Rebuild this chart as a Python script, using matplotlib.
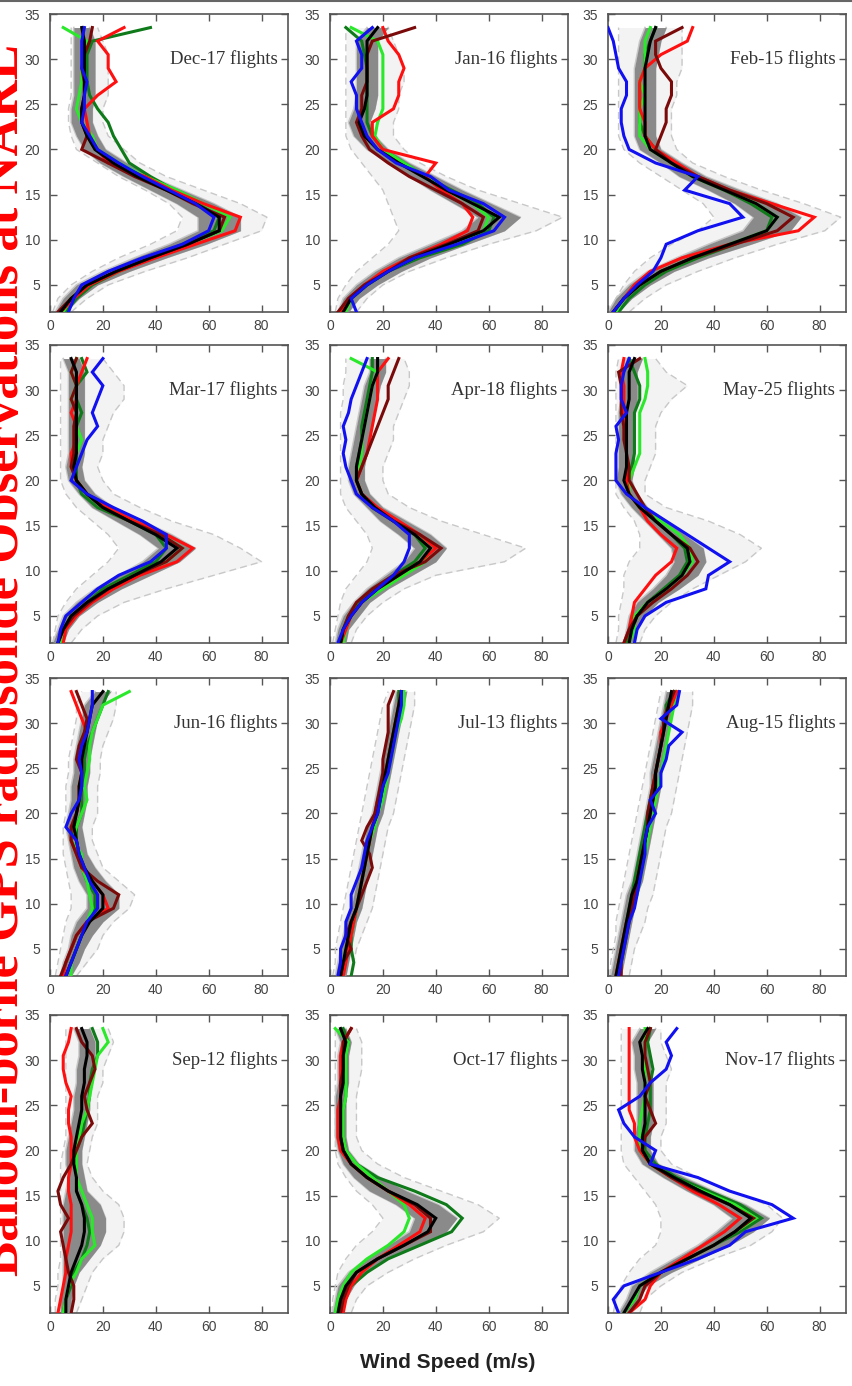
import matplotlib
matplotlib.use("Agg")
import matplotlib.pyplot as plt
from matplotlib.lines import Line2D

# ---------------- data (wind speed, m/s) ----------------
alt_km = [2, 3.5, 5, 6.5, 8, 9.5, 11, 12.5, 14, 15.5, 17, 18.5,
          20, 21.5, 23, 24.5, 26, 27.5, 29, 30.5, 32, 33.5]

month_titles = ["Dec-17 flights", "Jan-16 flights", "Feb-15 flights",
                "Mar-17 flights", "Apr-18 flights", "May-25 flights",
                "Jun-16 flights", "Jul-13 flights", "Aug-15 flights",
                "Sep-12 flights", "Oct-17 flights", "Nov-17 flights"]

x_ticks = [0, 20, 40, 60, 80]
y_ticks = [5, 10, 15, 20, 25, 30, 35]

# December
dec_mean = [4, 8, 14, 25, 38, 52, 64, 64, 55, 44, 33, 24, 17, 14, 12, 12, 13, 13, 13, 13, 13, 12]
dec_sd = [2, 3, 4, 5, 6, 7, 8, 8, 7, 6, 5, 5, 4, 4, 4, 4, 4, 4, 4, 4, 4, 3]
dec_lo = [1, 3, 8, 16, 26, 38, 48, 50, 45, 36, 26, 18, 10, 8, 7, 7, 8, 8, 8, 8, 8, 8]
dec_hi = [8, 14, 22, 36, 52, 66, 80, 82, 72, 58, 44, 34, 28, 22, 20, 20, 22, 22, 22, 22, 20, 18]
dec_dred = [3, 8, 14, 25, 38, 52, 64, 66, 54, 44, 32, 22, 12, 14, 12, 12, 13, 13, 12, 13, 15, 16]
dec_red = [4, 9, 15, 26, 40, 55, 70, 72, 58, 46, 36, 22, 18, 15, 14, 13, 18, 25, 22, 22, 18, 28]
dec_lime = [5, 8, 14, 26, 38, 52, 65, 68, 58, 48, 36, 26, 18, 16, 12, 10, 11, 12, 12, 13, 14, 5]
dec_dgreen = [6, 10, 16, 26, 38, 50, 62, 64, 56, 47, 38, 30, 27, 24, 22, 18, 15, 14, 14, 14, 16, 38]
dec_blue = [7, 9, 12, 22, 35, 50, 60, 62, 55, 45, 35, 26, 18, 15, 12, 13, 13, 14, 12, 12, 12, 13]

# January
jan_mean = [5, 8, 14, 22, 32, 45, 58, 64, 54, 44, 35, 26, 18, 13, 11, 13, 14, 14, 14, 14, 14, 18]
jan_sd = [2, 3, 4, 5, 6, 7, 8, 8, 7, 6, 5, 4, 4, 4, 4, 4, 4, 4, 4, 4, 4, 4]
jan_lo = [2, 3, 6, 10, 16, 22, 26, 24, 22, 20, 16, 12, 8, 6, 6, 6, 6, 6, 6, 6, 6, 6]
jan_hi = [10, 14, 20, 30, 44, 60, 78, 88, 72, 56, 44, 34, 28, 24, 24, 26, 26, 28, 28, 26, 24, 22]
jan_dred = [3, 7, 13, 22, 30, 44, 56, 58, 50, 40, 30, 22, 15, 12, 10, 12, 12, 14, 14, 14, 16, 32]
jan_red = [4, 7, 13, 20, 30, 42, 52, 54, 50, 42, 36, 40, 20, 16, 16, 24, 26, 26, 28, 26, 22, 20]
jan_lime = [6, 8, 14, 22, 32, 46, 58, 60, 54, 44, 36, 28, 20, 17, 18, 20, 20, 20, 20, 20, 18, 8]
jan_dgreen = [4, 8, 14, 22, 34, 50, 60, 62, 56, 46, 36, 28, 20, 16, 14, 14, 14, 14, 14, 13, 12, 6]
jan_blue = [10, 8, 14, 22, 32, 48, 62, 66, 58, 45, 38, 25, 18, 14, 12, 10, 10, 8, 12, 12, 10, 16]

# February
feb_mean = [2, 6, 12, 20, 32, 46, 60, 64, 56, 44, 32, 24, 16, 14, 14, 14, 14, 14, 14, 15, 16, 18]
feb_sd = [2, 3, 4, 5, 6, 8, 9, 9, 8, 6, 5, 4, 4, 4, 4, 4, 4, 4, 4, 4, 4, 4]
feb_lo = [1, 3, 6, 10, 16, 24, 34, 40, 36, 28, 20, 12, 6, 4, 4, 4, 4, 4, 4, 4, 4, 4]
feb_hi = [8, 14, 22, 34, 48, 64, 82, 88, 74, 58, 44, 32, 26, 24, 24, 24, 26, 26, 28, 28, 28, 28]
feb_dred = [2, 6, 12, 20, 32, 48, 64, 70, 60, 46, 34, 24, 18, 20, 22, 22, 24, 24, 20, 18, 18, 28]
feb_red = [2, 6, 10, 16, 28, 46, 72, 78, 62, 46, 34, 26, 18, 14, 14, 12, 12, 12, 14, 20, 30, 32]
feb_lime = [3, 6, 12, 20, 32, 46, 60, 64, 56, 44, 32, 24, 16, 12, 12, 12, 14, 12, 14, 14, 14, 16]
feb_dgreen = [4, 8, 14, 22, 34, 48, 60, 62, 54, 44, 32, 24, 18, 14, 12, 12, 12, 12, 14, 14, 16, 18]
feb_blue = [2, 6, 11, 17, 20, 22, 34, 51, 46, 29, 34, 18, 8, 6, 5, 5, 7, 7, 4, 3, 2, 0]

# March
mar_mean = [3, 5, 8, 14, 22, 32, 42, 48, 40, 30, 20, 14, 10, 9, 10, 10, 10, 10, 10, 10, 10, 8]
mar_sd = [2, 2, 3, 4, 5, 6, 7, 7, 6, 5, 4, 3, 3, 3, 3, 3, 3, 3, 3, 3, 3, 3]
mar_lo = [1, 2, 3, 6, 10, 16, 22, 26, 22, 16, 10, 6, 4, 4, 4, 4, 4, 4, 4, 4, 4, 4]
mar_hi = [8, 12, 18, 28, 44, 62, 80, 72, 62, 46, 34, 24, 20, 18, 20, 20, 22, 24, 28, 28, 24, 20]
mar_dred = [3, 5, 9, 15, 22, 32, 44, 50, 42, 30, 20, 14, 10, 8, 9, 9, 9, 10, 8, 10, 8, 10]
mar_red = [5, 6, 10, 16, 24, 34, 48, 54, 44, 32, 22, 14, 10, 8, 8, 10, 10, 8, 10, 10, 12, 14]
mar_lime = [4, 6, 9, 15, 22, 32, 44, 50, 42, 32, 20, 14, 10, 8, 10, 12, 10, 10, 8, 10, 8, 10]
mar_dgreen = [3, 5, 8, 14, 20, 30, 40, 44, 40, 30, 18, 12, 10, 10, 10, 10, 10, 12, 10, 10, 14, 12]
mar_blue = [3, 4, 6, 12, 18, 26, 38, 44, 44, 35, 24, 14, 8, 10, 12, 14, 18, 16, 18, 20, 16, 20]

# April
apr_mean = [4, 5, 8, 12, 18, 26, 34, 38, 32, 24, 17, 12, 10, 10, 11, 12, 13, 14, 15, 16, 18, 18]
apr_sd = [2, 2, 3, 3, 4, 5, 6, 6, 6, 5, 3, 3, 3, 3, 3, 3, 3, 3, 3, 3, 3, 3]
apr_lo = [1, 2, 3, 4, 6, 10, 14, 16, 14, 10, 6, 4, 4, 4, 4, 4, 4, 4, 5, 5, 6, 6]
apr_hi = [8, 10, 14, 20, 28, 40, 66, 74, 58, 42, 30, 22, 20, 20, 22, 24, 24, 26, 28, 30, 30, 28]
apr_dred = [4, 5, 7, 10, 16, 24, 36, 42, 34, 24, 16, 12, 10, 12, 14, 16, 18, 20, 22, 22, 24, 26]
apr_red = [4, 6, 8, 12, 18, 26, 34, 40, 34, 26, 18, 12, 10, 12, 14, 15, 16, 17, 18, 18, 18, 22]
apr_lime = [5, 6, 8, 12, 20, 28, 36, 38, 32, 24, 16, 12, 10, 11, 12, 12, 13, 14, 15, 16, 18, 8]
apr_dgreen = [4, 5, 7, 11, 17, 24, 32, 36, 32, 24, 16, 12, 10, 10, 11, 12, 12, 13, 14, 15, 16, 16]
apr_blue = [3, 5, 8, 12, 18, 24, 28, 30, 30, 24, 16, 10, 8, 6, 5, 6, 5, 7, 8, 10, 12, 14]

# May
may_mean = [8, 9, 11, 15, 22, 28, 31, 30, 24, 18, 12, 8, 6, 7, 7, 7, 7, 7, 8, 8, 8, 10]
may_sd = [2, 2, 3, 4, 5, 6, 6, 6, 5, 4, 3, 3, 3, 3, 3, 3, 3, 3, 3, 3, 3, 3]
may_lo = [3, 4, 4, 5, 6, 6, 8, 12, 12, 10, 6, 3, 3, 3, 3, 3, 3, 3, 3, 3, 3, 4]
may_hi = [12, 14, 18, 24, 32, 42, 52, 58, 50, 38, 22, 14, 14, 16, 18, 18, 18, 20, 24, 30, 22, 18]
may_dred = [6, 8, 11, 17, 24, 30, 34, 31, 24, 18, 14, 11, 8, 8, 7, 6, 6, 5, 5, 5, 4, 12]
may_red = [6, 8, 9, 10, 14, 18, 24, 26, 20, 15, 12, 8, 7, 7, 7, 7, 6, 6, 6, 6, 5, 6]
may_lime = [8, 10, 10, 15, 22, 28, 32, 31, 27, 20, 12, 8, 8, 10, 12, 12, 12, 12, 14, 15, 15, 14]
may_dgreen = [7, 9, 11, 15, 21, 27, 30, 29, 24, 18, 12, 8, 7, 9, 10, 10, 10, 10, 12, 12, 10, 8]
may_blue = [10, 11, 14, 22, 37, 38, 46, 38, 30, 22, 14, 7, 3, 3, 3, 4, 3, 7, 5, 5, 6, 8]

# June
jun_mean = [6, 8, 10, 12, 15, 20, 20, 16, 13, 11, 10, 9, 10, 11, 11, 12, 12, 13, 14, 15, 16, 20]
jun_sd = [2, 3, 3, 4, 5, 6, 6, 5, 4, 3, 3, 3, 3, 3, 3, 3, 3, 3, 3, 3, 3, 3]
jun_lo = [2, 3, 4, 5, 6, 8, 8, 7, 6, 5, 5, 5, 6, 6, 6, 7, 7, 8, 9, 10, 10, 12]
jun_hi = [10, 14, 18, 20, 24, 30, 32, 26, 20, 18, 16, 16, 18, 18, 18, 19, 19, 20, 22, 24, 25, 25]
jun_dred = [4, 6, 8, 10, 14, 24, 26, 18, 12, 10, 8, 8, 10, 11, 12, 12, 10, 11, 13, 14, 12, 10]
jun_red = [5, 6, 8, 10, 14, 22, 20, 16, 12, 10, 8, 8, 10, 11, 11, 12, 12, 12, 14, 12, 10, 8]
jun_lime = [8, 8, 10, 12, 14, 16, 15, 14, 12, 12, 8, 10, 12, 14, 13, 14, 15, 15, 16, 18, 20, 30]
jun_dgreen = [6, 8, 10, 12, 14, 17, 17, 14, 12, 11, 10, 10, 12, 12, 12, 13, 13, 14, 16, 18, 20, 22]
jun_blue = [6, 8, 10, 12, 14, 18, 18, 15, 13, 11, 10, 6, 8, 11, 12, 12, 11, 12, 14, 15, 16, 16]

# July
jul_mean = [4, 5, 6, 7, 8, 10, 11, 12, 13, 14, 15, 16, 18, 19, 20, 21, 22, 23, 24, 25, 26, 27]
jul_sd = [2, 2, 2, 2, 2, 2, 2, 2, 2, 2, 2, 2, 2, 2, 2, 2, 2, 2, 2, 2, 2, 2]
jul_lo = [1, 2, 2, 3, 4, 5, 6, 7, 8, 9, 10, 11, 12, 13, 14, 15, 16, 17, 18, 19, 20, 22]
jul_hi = [8, 9, 10, 12, 14, 16, 17, 18, 19, 20, 21, 22, 24, 25, 26, 27, 28, 29, 30, 31, 32, 32]
jul_dred = [4, 5, 8, 6, 8, 10, 12, 14, 16, 15, 12, 14, 17, 18, 19, 20, 20, 21, 22, 22, 22, 24]
jul_red = [5, 6, 7, 8, 9, 10, 11, 12, 13, 14, 15, 16, 17, 18, 20, 21, 22, 23, 24, 25, 26, 27]
jul_lime = [4, 5, 6, 8, 9, 10, 11, 12, 13, 14, 15, 17, 18, 20, 21, 22, 23, 24, 25, 27, 28, 28]
jul_dgreen = [8, 9, 8, 8, 9, 10, 11, 12, 13, 14, 15, 16, 18, 19, 20, 21, 22, 23, 24, 25, 26, 26]
jul_blue = [3, 4, 4, 6, 6, 8, 8, 10, 12, 13, 14, 16, 18, 19, 20, 22, 23, 24, 25, 26, 27, 27]

# August
aug_mean = [3, 4, 5, 6, 7, 8, 9, 11, 12, 13, 14, 15, 16, 17, 18, 18, 19, 20, 21, 22, 23, 24]
aug_sd = [2, 2, 2, 2, 2, 2, 2, 2, 2, 2, 2, 2, 2, 2, 2, 2, 2, 2, 2, 2, 2, 2]
aug_lo = [1, 1, 2, 3, 3, 4, 5, 6, 7, 8, 9, 10, 11, 12, 13, 14, 15, 16, 17, 18, 19, 20]
aug_hi = [8, 9, 10, 12, 14, 15, 17, 18, 19, 20, 21, 22, 24, 25, 26, 27, 28, 29, 30, 31, 32, 32]
aug_dred = [5, 5, 6, 7, 8, 9, 10, 11, 12, 13, 14, 15, 15, 16, 17, 18, 19, 20, 21, 21, 23, 25]
aug_red = [3, 4, 5, 6, 7, 9, 10, 11, 12, 13, 14, 15, 16, 17, 17, 18, 19, 20, 20, 22, 24, 26]
aug_lime = [4, 5, 6, 7, 8, 9, 11, 12, 13, 14, 15, 16, 17, 18, 19, 20, 21, 22, 23, 24, 25, 26]
aug_dgreen = [3, 4, 5, 6, 7, 8, 9, 10, 11, 12, 13, 14, 15, 16, 17, 18, 19, 20, 21, 22, 22, 25]
aug_blue = [4, 5, 6, 7, 8, 10, 11, 12, 13, 14, 14, 15, 18, 16, 20, 20, 22, 23, 28, 20, 26, 27]

# September
sep_mean = [6, 6, 7, 8, 10, 12, 13, 13, 12, 10, 10, 9, 9, 10, 11, 12, 12, 13, 13, 14, 14, 12]
sep_sd = [2, 2, 2, 3, 5, 7, 8, 8, 7, 4, 3, 3, 3, 3, 3, 3, 3, 3, 3, 3, 3, 3]
sep_lo = [2, 2, 3, 3, 4, 4, 4, 4, 4, 4, 4, 4, 5, 6, 6, 6, 6, 6, 6, 6, 6, 6]
sep_hi = [10, 12, 14, 16, 20, 26, 28, 28, 26, 20, 16, 14, 15, 16, 18, 18, 18, 20, 20, 22, 24, 22]
sep_dred = [8, 9, 9, 7, 6, 5, 4, 7, 4, 3, 5, 8, 10, 12, 16, 14, 13, 15, 17, 16, 12, 10]
sep_red = [3, 4, 5, 6, 6, 7, 8, 8, 8, 7, 7, 8, 8, 8, 7, 7, 8, 6, 5, 5, 7, 8]
sep_lime = [5, 6, 7, 10, 12, 17, 16, 16, 14, 12, 10, 10, 10, 11, 12, 14, 15, 16, 17, 18, 22, 20]
sep_dgreen = [5, 6, 8, 9, 12, 14, 15, 14, 12, 10, 10, 10, 10, 12, 13, 14, 15, 15, 16, 18, 18, 16]
sep_blue = None

# October
oct_mean = [3, 4, 6, 10, 18, 28, 37, 40, 33, 22, 14, 8, 5, 4, 4, 4, 4, 5, 5, 5, 6, 4]
oct_sd = [2, 2, 3, 3, 4, 6, 7, 8, 8, 7, 5, 3, 2, 2, 2, 2, 2, 2, 2, 2, 2, 2]
oct_lo = [1, 1, 2, 3, 6, 10, 16, 20, 16, 10, 6, 3, 2, 2, 2, 2, 2, 2, 2, 2, 2, 2]
oct_hi = [8, 10, 14, 22, 32, 44, 58, 64, 56, 42, 28, 18, 12, 10, 10, 10, 10, 11, 12, 12, 12, 10]
oct_dred = [4, 5, 7, 10, 18, 28, 38, 38, 32, 22, 14, 8, 5, 4, 4, 4, 4, 4, 5, 5, 5, 8]
oct_red = [5, 6, 8, 12, 18, 26, 34, 36, 30, 22, 14, 8, 4, 3, 3, 3, 4, 4, 4, 4, 5, 8]
oct_lime = [2, 3, 5, 8, 14, 22, 28, 30, 28, 22, 16, 10, 6, 5, 5, 5, 6, 6, 6, 6, 7, 2]
oct_dgreen = [4, 5, 8, 14, 22, 34, 46, 50, 44, 32, 18, 10, 6, 5, 5, 5, 6, 6, 6, 6, 7, 5]
oct_blue = None

# November
nov_mean = [6, 9, 12, 20, 30, 40, 48, 54, 46, 35, 25, 16, 13, 13, 14, 14, 14, 14, 13, 13, 12, 15]
nov_sd = [2, 2, 3, 4, 5, 6, 7, 7, 6, 5, 4, 3, 3, 3, 3, 3, 3, 3, 3, 3, 3, 3]
nov_lo = [2, 3, 5, 8, 12, 18, 20, 20, 18, 14, 10, 6, 5, 5, 5, 5, 5, 5, 5, 5, 5, 5]
nov_hi = [12, 14, 20, 28, 40, 54, 62, 66, 60, 46, 34, 24, 20, 20, 22, 22, 22, 22, 24, 22, 20, 20]
nov_dred = [8, 12, 14, 20, 30, 40, 48, 55, 46, 34, 24, 16, 13, 14, 18, 16, 14, 16, 15, 14, 14, 16]
nov_red = [8, 14, 16, 20, 28, 36, 44, 50, 42, 32, 24, 16, 12, 10, 10, 8, 8, 8, 8, 8, 8, 8]
nov_lime = [6, 10, 12, 20, 30, 40, 48, 56, 48, 36, 24, 16, 12, 12, 12, 13, 14, 14, 14, 14, 14, 14]
nov_dgreen = [6, 10, 12, 20, 30, 40, 50, 58, 50, 38, 26, 18, 14, 14, 15, 16, 16, 16, 17, 16, 15, 16]
nov_blue = [4, 2, 6, 20, 34, 46, 52, 70, 62, 46, 34, 16, 18, 10, 6, 4, 12, 16, 22, 24, 22, 26]

panels = [
    (dec_mean, dec_sd, dec_lo, dec_hi, dec_dred, dec_red, dec_lime, dec_dgreen, dec_blue),
    (jan_mean, jan_sd, jan_lo, jan_hi, jan_dred, jan_red, jan_lime, jan_dgreen, jan_blue),
    (feb_mean, feb_sd, feb_lo, feb_hi, feb_dred, feb_red, feb_lime, feb_dgreen, feb_blue),
    (mar_mean, mar_sd, mar_lo, mar_hi, mar_dred, mar_red, mar_lime, mar_dgreen, mar_blue),
    (apr_mean, apr_sd, apr_lo, apr_hi, apr_dred, apr_red, apr_lime, apr_dgreen, apr_blue),
    (may_mean, may_sd, may_lo, may_hi, may_dred, may_red, may_lime, may_dgreen, may_blue),
    (jun_mean, jun_sd, jun_lo, jun_hi, jun_dred, jun_red, jun_lime, jun_dgreen, jun_blue),
    (jul_mean, jul_sd, jul_lo, jul_hi, jul_dred, jul_red, jul_lime, jul_dgreen, jul_blue),
    (aug_mean, aug_sd, aug_lo, aug_hi, aug_dred, aug_red, aug_lime, aug_dgreen, aug_blue),
    (sep_mean, sep_sd, sep_lo, sep_hi, sep_dred, sep_red, sep_lime, sep_dgreen, sep_blue),
    (oct_mean, oct_sd, oct_lo, oct_hi, oct_dred, oct_red, oct_lime, oct_dgreen, oct_blue),
    (nov_mean, nov_sd, nov_lo, nov_hi, nov_dred, nov_red, nov_lime, nov_dgreen, nov_blue),
]

# ---------------- layout ----------------
W, H = 853, 1386
fig = plt.figure(figsize=(W / 100, H / 100), dpi=100)
col_left = [50, 330, 608]
row_top = [14, 345, 678, 1015]
ax_w, ax_h = 238, 298

C_DRED = "#7a0a0a"
C_RED = "#ff1010"
C_LIME = "#2ae82a"
C_DGREEN = "#0f7a1a"
C_BLUE = "#1010f0"
C_BAND = "#8a8a8a"
C_LIGHT = "#c8c8c8"

for i, (mean, sd, lo, hi, dred, red, lime, dgreen, blue) in enumerate(panels):
    r, c = divmod(i, 3)
    left = col_left[c] / W
    bottom = 1 - (row_top[r] + ax_h) / H
    ax = fig.add_axes([left, bottom, ax_w / W, ax_h / H])

    band_lo = [m - s for m, s in zip(mean, sd)]
    band_hi = [m + s for m, s in zip(mean, sd)]

    ax.fill_betweenx(alt_km, lo, hi, color="#f3f3f3", lw=0, zorder=1)
    ax.plot(lo, alt_km, color=C_LIGHT, lw=1.0, ls=(0, (5, 3)), zorder=2)
    ax.plot(hi, alt_km, color=C_LIGHT, lw=1.0, ls=(0, (5, 3)), zorder=2)
    ax.plot(band_lo, alt_km, color=C_LIGHT, lw=1.2, zorder=2)
    ax.plot(band_hi, alt_km, color=C_LIGHT, lw=1.2, zorder=2)
    ax.fill_betweenx(alt_km, band_lo, band_hi, color=C_BAND, lw=0, zorder=3)

    for series, col in [(dgreen, C_DGREEN), (lime, C_LIME), (red, C_RED),
                        (dred, C_DRED), (mean, "black"), (blue, C_BLUE)]:
        if series is not None:
            ax.plot(series, alt_km, color=col, lw=2.2, zorder=4,
                    solid_joinstyle="miter")

    ax.set_xlim(0, 90)
    ax.set_ylim(2, 35)
    ax.set_xticks(x_ticks)
    ax.set_yticks(y_ticks)
    ax.tick_params(direction="in", length=5, width=1, color="#555555",
                   top=True, right=True, labelsize=10, labelcolor="#444444")
    ax.tick_params(axis="y", pad=7)
    ax.tick_params(axis="x", pad=5)
    for lab in ax.get_xticklabels() + ax.get_yticklabels():
        lab.set_fontfamily("Liberation Sans")
    for sp in ax.spines.values():
        sp.set_color("#555555")
        sp.set_linewidth(1.2)

    ax.text(0.955, 30, month_titles[i], transform=ax.get_yaxis_transform(),
            ha="right", va="center", fontsize=13.5, family="Liberation Serif",
            color="#333333", zorder=6,
            bbox=dict(facecolor="white", edgecolor="none", pad=1.5))

# side title (partly cut off at the left edge, as in the reference)
fig.text(18 / W, 1 - 660 / H,
         "Balloon-borne GPS radiosonde Observations at NARL",
         rotation=90, rotation_mode="anchor", ha="center", va="baseline",
         fontsize=38, fontweight="bold", family="Liberation Serif", color="red")

fig.text(448 / W, 1 - 1363 / H, "Wind Speed (m/s)", ha="center", va="center",
         fontsize=15, fontweight="bold", family="Liberation Sans", color="#222222")

fig.add_artist(Line2D([0, 1], [1 - 1 / H, 1 - 1 / H], color="#666666", lw=1.5,
                      transform=fig.transFigure))

fig.savefig("out.png", dpi=100)
